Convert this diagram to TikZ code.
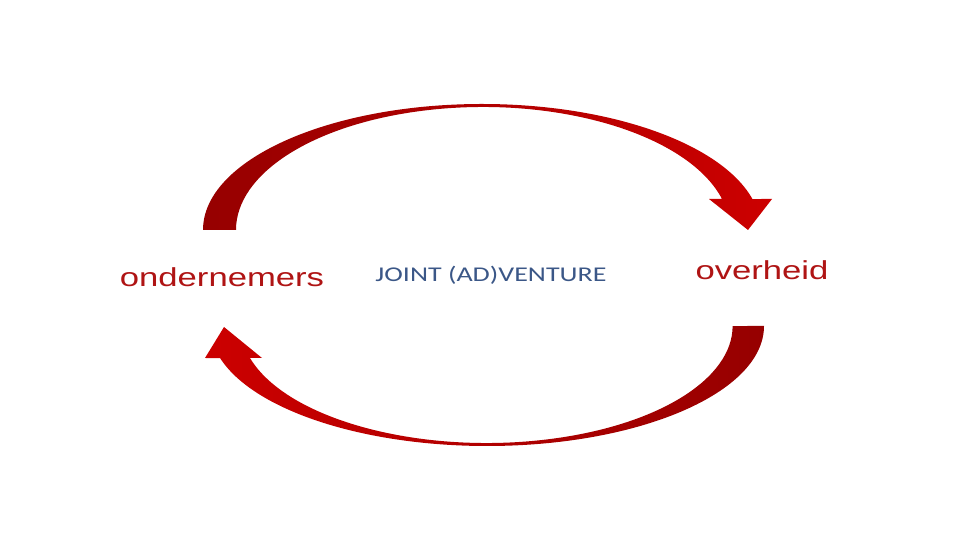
\documentclass[tikz,border=0pt]{standalone}
\usepackage{fontspec}
\setmainfont{Liberation Sans}
\newfontfamily\partyfont[FakeStretch=1.333]{Liberation Sans}
\newfontfamily\jvfont[FakeStretch=1.333]{Carlito}
\usetikzlibrary{positioning,calc}
\definecolor{partyred}{RGB}{175,20,20}
\definecolor{jvblue}{RGB}{59,87,135}
\definecolor{arrdark}{RGB}{150,0,0}
\definecolor{arrlight}{RGB}{204,0,0}

\begin{document}
\begin{tikzpicture}[x=1pt,y=1pt,
	party/.style={anchor=base,inner sep=0pt,text=partyred,font=\partyfont\fontsize{26}{30}\selectfont},
	joint/.style={anchor=base,inner sep=0pt,text=jvblue,font=\jvfont\fontsize{21}{25}\selectfont}]
\useasboundingbox (0,0) rectangle (960,540);
\node (ond) at (222,253)[party] {ondernemers};
\node (jv) at (491,258)[joint] {JOINT (AD)VENTURE};
\node (ovh) at (762,260)[party] {overheid};

% bovenste pijl: ondernemers -> overheid
\coordinate (t1) at (203,310);
\coordinate (h1) at (748,310);
\shade[left color=arrdark,right color=arrlight]
	(t1) arc[start angle=180,end angle=14.24,x radius=279,y radius=126]
	-- (772,341) -- (h1) -- (709,341) -- (722,341)
	arc[start angle=14.6,end angle=180,x radius=247,y radius=123] -- cycle;

% onderste pijl: overheid -> ondernemers
\coordinate (t2) at (764,214);
\coordinate (h2) at (224,213);
\shade[left color=arrlight,right color=arrdark]
	(t2) arc[start angle=0,end angle=-164.5,x radius=277,y radius=120]
	-- (205,182) -- (h2) -- (262,182) -- (250,182)
	arc[start angle=-164.13,end angle=0,x radius=246,y radius=117] -- cycle;
\end{tikzpicture}
\end{document}
